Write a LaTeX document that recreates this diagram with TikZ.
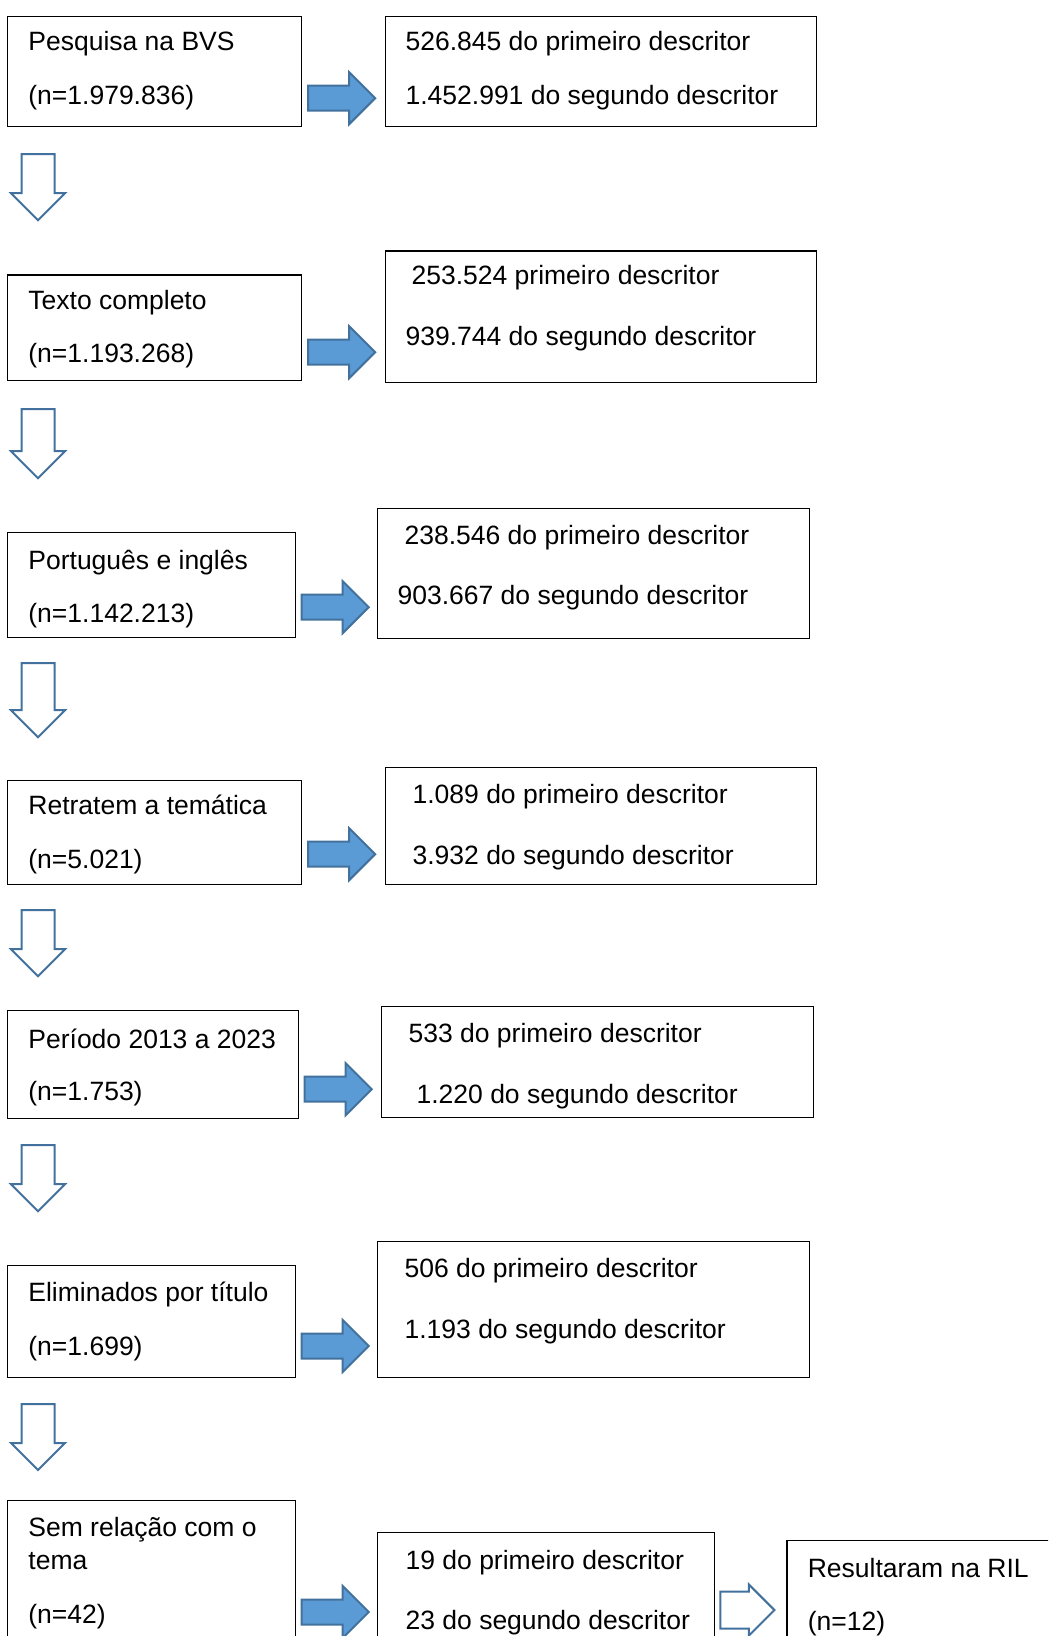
\documentclass[tikz,border=0pt]{standalone}
\usepackage{fontspec}
\setmainfont{Liberation Sans}
\usetikzlibrary{shapes.arrows, calc, positioning}
\definecolor{arrowfill}{HTML}{5B9BD5}
\definecolor{arrowline}{HTML}{41719C}

\begin{document}
\begin{tikzpicture}[x=0.5pt, y=-0.5pt]
\tikzset{
  bx/.style 2 args={draw, line width=0.6pt, anchor=north west, inner sep=0,
    minimum width=#1*0.5pt, minimum height=#2*0.5pt},
  txt/.style={anchor=base west, inner sep=0, yshift=-1pt,
    font=\fontsize{13.25}{16}\selectfont},
  rarrow/.style={single arrow, draw=arrowline, fill=arrowfill, line width=1pt,
    inner xsep=0, inner ysep=5.75pt, anchor=tail, minimum height=33.5pt,
    minimum width=25pt, single arrow head extend=6.75pt},
  darrow/.style={single arrow, draw=arrowline, fill=white, line width=1pt,
    inner xsep=0, inner ysep=7.75pt, anchor=tail, rotate=-90,
    minimum height={(#1-2)*0.5pt}, minimum width=26pt,
    single arrow head extend=5.25pt},
  darrow/.default=68,
}
\useasboundingbox (0,0) rectangle (1048,1636);
\clip (0,0) rectangle (1048,1636);

% row 1
\node[bx={294}{110}] (l1) at (7,16) {};
\node[bx={431}{110}] (r1) at ($(l1.north east)+(83,0)$) {};
\node[txt] (l1a) at ($(l1.north west)+(21,33)$) {Pesquisa na BVS};
\node[txt] (l1b) at ($(l1.north west)+(21,87)$) {(n=1.979.836)};
\node[txt] (r1a) at ($(r1.north west)+(20,33)$) {526.845 do primeiro descritor};
\node[txt] (r1b) at ($(r1.north west)+(20,87)$) {1.452.991 do segundo descritor};
\node[rarrow] (a1) at ($(l1.south east)+(5,-29)$) {};
\node[darrow] (d1) at ($(l1.south west)+(31,26)$) {};

% row 2
\node[bx={294}{105.5}] (l2) at (7,274.5) {};
\node[bx={431}{131.5}] (r2) at ($(l2.north east)+(83,-24)$) {};
\node[txt] (l2a) at ($(l2.north west)+(21,33.5)$) {Texto completo};
\node[txt] (l2b) at ($(l2.north west)+(21,86.5)$) {(n=1.193.268)};
\node[txt] (r2a) at ($(r2.north west)+(26,32.5)$) {253.524 primeiro descritor};
\node[txt] (r2b) at ($(r2.north west)+(20,93)$) {939.744 do segundo descritor};
\node[rarrow] (a2) at ($(l2.south east)+(5,-29)$) {};
\node[darrow=71] (d2) at ($(l2.south west)+(31,27)$) {};

% row 3
\node[bx={288}{105}] (l3) at (7,532) {};
\node[bx={432}{130}] (r3) at ($(l3.north east)+(81,-24)$) {};
\node[txt] (l3a) at ($(l3.north west)+(21,35)$) {Português e inglês};
\node[txt] (l3b) at ($(l3.north west)+(21,88)$) {(n=1.142.213)};
\node[txt] (r3a) at ($(r3.north west)+(27,34)$) {238.546 do primeiro descritor};
\node[txt] (r3b) at ($(r3.north west)+(20,94)$) {903.667 do segundo descritor};
\node[rarrow] (a3) at ($(l3.south east)+(4.5,-31)$) {};
\node[darrow=76] (d3) at ($(l3.south west)+(31,24)$) {};

% row 4
\node[bx={294}{104.3}] (l4) at (7,779.7) {};
\node[bx={431}{117}] (r4) at ($(l4.north east)+(83,-12.7)$) {};
\node[txt] (l4a) at ($(l4.north west)+(21,33)$) {Retratem a temática};
\node[txt] (l4b) at ($(l4.north west)+(21,87)$) {(n=5.021)};
\node[txt] (r4a) at ($(r4.north west)+(27,34.6)$) {1.089 do primeiro descritor};
\node[txt] (r4b) at ($(r4.north west)+(27,95)$) {3.932 do segundo descritor};
\node[rarrow] (a4) at ($(l4.south east)+(5,-31)$) {};
\node[darrow] (d4) at ($(l4.south west)+(31,24)$) {};

% row 5
\node[bx={291}{108}] (l5) at (7,1010) {};
\node[bx={432}{111}] (r5) at ($(l5.north east)+(82,-4)$) {};
\node[txt] (l5a) at ($(l5.north west)+(21,36)$) {Período 2013 a 2023};
\node[txt] (l5b) at ($(l5.north west)+(21,88)$) {(n=1.753)};
\node[txt] (r5a) at ($(r5.north west)+(27,34.7)$) {533 do primeiro descritor};
\node[txt] (r5b) at ($(r5.north west)+(35,95)$) {1.220 do segundo descritor};
\node[rarrow] (a5) at ($(l5.south east)+(4.5,-30)$) {};
\node[darrow] (d5) at ($(l5.south west)+(31,25)$) {};

% row 6
\node[bx={288}{111.8}] (l6) at (7,1265) {};
\node[bx={432}{135.8}] (r6) at ($(l6.north east)+(81,-24)$) {};
\node[txt] (l6a) at ($(l6.north west)+(21,34.5)$) {Eliminados por título};
\node[txt] (l6b) at ($(l6.north west)+(21,88)$) {(n=1.699)};
\node[txt] (r6a) at ($(r6.north west)+(27,34.5)$) {506 do primeiro descritor};
\node[txt] (r6b) at ($(r6.north west)+(27,95)$) {1.193 do segundo descritor};
\node[rarrow] (a6) at ($(l6.south east)+(4.5,-32)$) {};
\node[darrow] (d6) at ($(l6.south west)+(31,25)$) {};

% row 7
\node[bx={288}{200}] (l7) at (7,1500) {};
\node[bx={337}{200}] (m7) at ($(l7.north east)+(81,32)$) {};
\node[bx={300}{200}] (res) at ($(m7.north east)+(71,7.6)$) {};
\node[txt] (l7a) at ($(l7.north west)+(21,34)$) {Sem relação com o};
\node[txt] (l7b) at ($(l7.north west)+(21,67)$) {tema};
\node[txt] (l7c) at ($(l7.north west)+(21,121)$) {(n=42)};
\node[txt] (m7a) at ($(m7.north west)+(28,35)$) {19 do primeiro descritor};
\node[txt] (m7b) at ($(m7.north west)+(28,95)$) {23 do segundo descritor};
\node[txt] (resa) at ($(res.north west)+(21,35.4)$) {Resultaram na RIL};
\node[txt] (resb) at ($(res.north west)+(21,88.5)$) {(n=12)};
\node[rarrow] (a7) at ($(l7.north east)+(4.5,112)$) {};
\node[rarrow, fill=white, inner ysep=8.75pt, minimum height=27pt,
  minimum width=24.5pt, single arrow head extend=3.5pt] (a8)
  at ($(m7.north east)+(4,78)$) {};

\end{tikzpicture}
\end{document}
